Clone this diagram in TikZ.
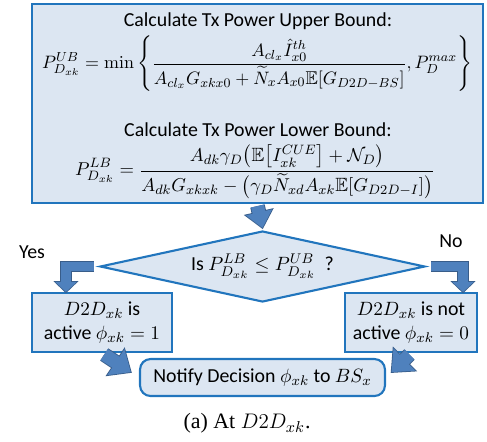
\documentclass[tikz,border=0pt]{standalone}
\usepackage{amsmath,amssymb,graphicx}
\usepackage[no-math]{fontspec}
\setmainfont{Carlito}
\newfontfamily\capfont{Liberation Serif}
\usetikzlibrary{shapes.geometric, arrows.meta, positioning, calc}
\definecolor{boxline}{RGB}{33, 117, 189}
\definecolor{boxfill}{RGB}{220, 230, 242}
\definecolor{arrowfill}{RGB}{79, 129, 189}
\definecolor{arrowline}{RGB}{56, 93, 138}

\begin{document}
\begin{tikzpicture}[x=0.02cm, y=-0.02cm,
  font=\fontsize{11.3}{13.6}\selectfont,
  box/.style={draw=boxline, fill=boxfill, line width=1.2pt, align=center,
              inner sep=2pt},
  test/.style={diamond, draw=boxline, fill=boxfill, line width=1.2pt,
               aspect=4.6, inner sep=0pt, minimum width=6.5cm,
               minimum height=1.42cm},
  fatarrow/.style n args={3}{draw=arrowfill, line width=#1, line join=miter,
              -{Triangle[width=#2, length=#3]},
              preaction={draw=arrowline, line width=#1+1pt, shorten >=-0.7pt,
                         -{Triangle[width=#2+2pt, length=#3+1.2pt]}}}
]
  \useasboundingbox (0,0) rectangle (487,441);

  % bounds box
  \node[box, minimum width=9.02cm, minimum height=3.98cm] (bounds) at (257.5,103.5) {};
  \node[inner sep=0pt] (ubtitle) at (258,21) {Calculate Tx Power Upper Bound:};
  \node[inner sep=0pt] (ubeq) at (257,64)
    {\resizebox{8.6cm}{!}{$\displaystyle P^{UB}_{D_{xk}} = \min\left\{\frac{A_{cl_x}\hat{I}^{th}_{x0}}
     {A_{cl_x}G_{xkx0}+\widetilde{N}_x A_{x0}\mathbb{E}[G_{D2D-BS}]}, P_D^{max}\right\}$}};
  \node[inner sep=0pt] (lbtitle) at (258,130) {Calculate Tx Power Lower Bound:};
  \node[inner sep=0pt] (lbeq) at (255,172)
    {\resizebox{7.2cm}{!}{$\displaystyle P^{LB}_{D_{xk}} = \frac{A_{dk}\gamma_D\big(\mathbb{E}\big[I^{CUE}_{xk}\big]+\mathcal{N}_D\big)}
     {A_{dk}G_{xkxk}-\big(\gamma_D\widetilde{N}_{xd}A_{xk}\mathbb{E}[G_{D2D-I}]\big)}$}};

  % decision
  \node[test] (check) at (262.5,266.5)
    {Is $P^{LB}_{D_{xk}} \le P^{UB}_{D_{xk}}$ ~?};
  \node (yes) at (32,252) {Yes};
  \node (no) at (451,241) {No};

  \node[box, minimum width=2.8cm, minimum height=1.18cm] (active) at (102,322.5)
    {$D2D_{xk}$ is\\active $\phi_{xk}=1$};
  \node[box, minimum width=2.64cm, minimum height=1.18cm] (inactive) at (411,322.5)
    {$D2D_{xk}$ is not\\active $\phi_{xk}=0$};
  \node[box, rounded corners=6pt, minimum width=4.9cm, minimum height=0.74cm]
    (notify) at (262.5,377.5) {Notify Decision $\phi_{xk}$ to $BS_x$};

  % arrows
  \draw[fatarrow={0.26cm}{0.52cm}{0.32cm}] ([yshift=-0.04cm]bounds.south)
    -- ([yshift=0.04cm]check.north);
  \draw[fatarrow={0.19cm}{0.42cm}{0.2cm}] ([xshift=-0.1cm]check.west)
    -| ([xshift=0.7cm]active.north west);
  \draw[fatarrow={0.19cm}{0.42cm}{0.2cm}] ([xshift=0.1cm]check.east)
    -| ([xshift=-0.3cm]inactive.north east);
  \draw[fatarrow={0.26cm}{0.6cm}{0.36cm}] ($(active.south)!0.06!(notify.west)$)
    -- ($(active.south)!0.78!(notify.west)$);
  \draw[fatarrow={0.26cm}{0.6cm}{0.36cm}] ($(inactive.south)!0.06!(notify.east)$)
    -- ($(inactive.south)!0.78!(notify.east)$);

  \node[font=\capfont\fontsize{12.5}{14}\selectfont] (caption) at (247,423)
    {(a) At $D2D_{xk}$.};
\end{tikzpicture}
\end{document}
